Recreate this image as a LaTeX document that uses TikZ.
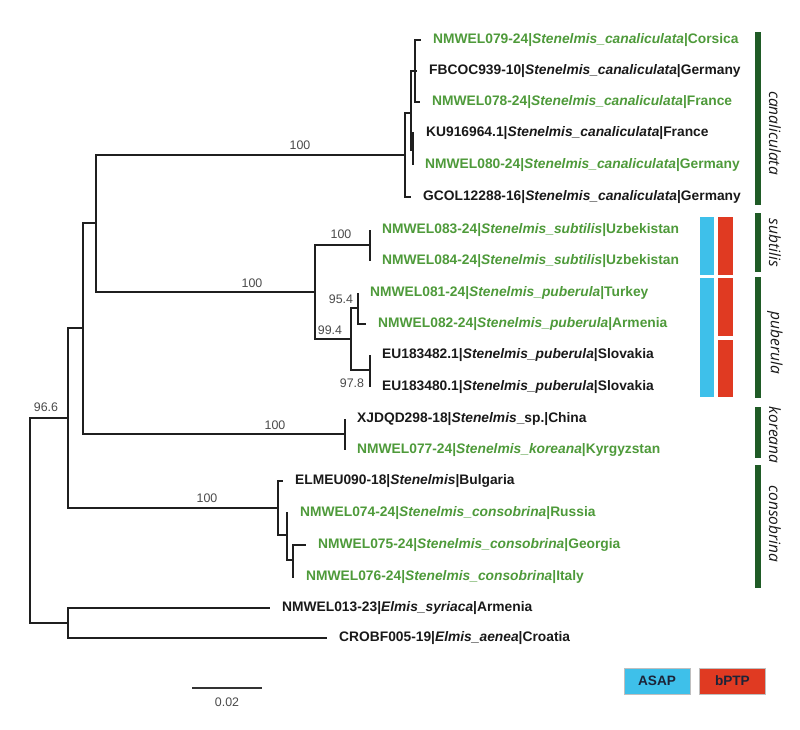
\documentclass[tikz,border=0pt]{standalone}
\usepackage{fontspec}
\setmainfont{Liberation Sans}
\newfontfamily\cladefont{Open Sans}
\usetikzlibrary{positioning}
\definecolor{treegreen}{HTML}{4E9A3A}
\definecolor{cladegreen}{HTML}{1F5B26}
\definecolor{asapblue}{HTML}{3EC0EA}
\definecolor{bptpred}{HTML}{E03A22}
\definecolor{supgray}{HTML}{4A4A4A}
\definecolor{legendtext}{HTML}{1C2438}
\tikzset{
  branch/.style={line width=2.8pt, draw=black!88},
  tiplab/.style={inner sep=0pt, font=\fontsize{13.8}{14}\selectfont\bfseries, text=black!90},
  newtip/.style={tiplab, text=treegreen},
  support/.style={inner sep=0pt, font=\fontsize{12.4}{13}\selectfont, text=supgray},
  cladebar/.style={fill=cladegreen},
  cladelab/.style={rotate=-90, inner sep=0pt, text=black!90, font=\cladefont\itshape\fontsize{15.5}{16}\selectfont},
  asapbar/.style={fill=asapblue},
  bptpbar/.style={fill=bptpred},
  legendbox/.style={draw=black!25, line width=0.4pt, minimum width=66pt, minimum height=26pt,
    inner sep=0pt, text=legendtext, font=\fontsize{13.6}{14}\selectfont\bfseries},
  scalebar/.style={line width=1.8pt, draw=black!80},
}
\newcommand{\stn}[1]{\textit{Stenelmis\_#1}}

\begin{document}
\begin{tikzpicture}[x=1pt, y=-1pt]
\useasboundingbox (0,0) rectangle (800,730);
% internal nodes
\coordinate (root) at (30,520);
\coordinate (A) at (68,418);
\coordinate (B) at (83,328);
\coordinate (C) at (96,223);
\coordinate (Can) at (405,155);
\coordinate (c2) at (411,113);
\coordinate (c3) at (415,71);
\coordinate (c4) at (413,150);
\coordinate (SP) at (315,292);
\coordinate (Sub) at (370,245);
\coordinate (Pub) at (351,339);
\coordinate (P1) at (358,308);
\coordinate (P2) at (370,370);
\coordinate (Kor) at (345,434);
\coordinate (Cons) at (278,508);
\coordinate (k1) at (287,535);
\coordinate (k2) at (293,560);
\coordinate (Out) at (68,623);
% tips
\coordinate (t01) at (421,40);
\coordinate (t02) at (417,71);
\coordinate (t03) at (420,102);
\coordinate (t04) at (414,133);
\coordinate (t05) at (413,165);
\coordinate (t06) at (411,197);
\coordinate (t07) at (370,230);
\coordinate (t08) at (370,261);
\coordinate (t09) at (358,293);
\coordinate (t10) at (366,324);
\coordinate (t11) at (370,355);
\coordinate (t12) at (370,387);
\coordinate (t13) at (345,419);
\coordinate (t14) at (345,450);
\coordinate (t15) at (283,481);
\coordinate (t16) at (288,513);
\coordinate (t17) at (306,545);
\coordinate (t18) at (294,577);
\coordinate (t19) at (270,608);
\coordinate (t20) at (327,638);
% branches
\draw[branch] (root) |- (A);
\draw[branch] (root) |- (Out);
\draw[branch] (A) |- (B);
\draw[branch] (A) |- (Cons);
\draw[branch] (B) |- (C);
\draw[branch] (B) |- (Kor);
\draw[branch] (C) |- (Can);
\draw[branch] (C) |- (SP);
\draw[branch] (Can) |- (c2);
\draw[branch] (Can) |- (t06);
\draw[branch] (c2) |- (c3);
\draw[branch] (c2) |- (c4);
\draw[branch] (c3) |- (t01);
\draw[branch] (c3) |- (t02);
\draw[branch] (c3) |- (t03);
\draw[branch] (c4) |- (t04);
\draw[branch] (c4) |- (t05);
\draw[branch] (SP) |- (Sub);
\draw[branch] (SP) |- (Pub);
\draw[branch] (Sub) |- (t07);
\draw[branch] (Sub) |- (t08);
\draw[branch] (Pub) |- (P1);
\draw[branch] (Pub) |- (P2);
\draw[branch] (P1) |- (t09);
\draw[branch] (P1) |- (t10);
\draw[branch] (P2) |- (t11);
\draw[branch] (P2) |- (t12);
\draw[branch] (Kor) |- (t13);
\draw[branch] (Kor) |- (t14);
\draw[branch] (Cons) |- (t15);
\draw[branch] (Cons) |- (k1);
\draw[branch] (k1) |- (t16);
\draw[branch] (k1) |- (k2);
\draw[branch] (k2) |- (t17);
\draw[branch] (k2) |- (t18);
\draw[branch] (Out) |- (t19);
\draw[branch] (Out) |- (t20);
% tip labels
\node[newtip, right=12pt of t01] (l01) {NMWEL079-24|\stn{canaliculata}|Corsica};
\node[tiplab, right=12pt of t02] (l02) {FBCOC939-10|\stn{canaliculata}|Germany};
\node[newtip, right=12pt of t03] (l03) {NMWEL078-24|\stn{canaliculata}|France};
\node[tiplab, right=12pt of t04] (l04) {KU916964.1|\stn{canaliculata}|France};
\node[newtip, right=12pt of t05] (l05) {NMWEL080-24|\stn{canaliculata}|Germany};
\node[tiplab, right=12pt of t06] (l06) {GCOL12288-16|\stn{canaliculata}|Germany};
\node[newtip, right=12pt of t07] (l07) {NMWEL083-24|\stn{subtilis}|Uzbekistan};
\node[newtip, right=12pt of t08] (l08) {NMWEL084-24|\stn{subtilis}|Uzbekistan};
\node[newtip, right=12pt of t09] (l09) {NMWEL081-24|\stn{puberula}|Turkey};
\node[newtip, right=12pt of t10] (l10) {NMWEL082-24|\stn{puberula}|Armenia};
\node[tiplab, right=12pt of t11] (l11) {EU183482.1|\stn{puberula}|Slovakia};
\node[tiplab, right=12pt of t12] (l12) {EU183480.1|\stn{puberula}|Slovakia};
\node[tiplab, right=12pt of t13] (l13) {XJDQD298-18|\textit{Stenelmis}\_sp.|China};
\node[newtip, right=12pt of t14] (l14) {NMWEL077-24|\stn{koreana}|Kyrgyzstan};
\node[tiplab, right=12pt of t15] (l15) {ELMEU090-18|\textit{Stenelmis}|Bulgaria};
\node[newtip, right=12pt of t16] (l16) {NMWEL074-24|\stn{consobrina}|Russia};
\node[newtip, right=12pt of t17] (l17) {NMWEL075-24|\stn{consobrina}|Georgia};
\node[newtip, right=12pt of t18] (l18) {NMWEL076-24|\stn{consobrina}|Italy};
\node[tiplab, right=12pt of t19] (l19) {NMWEL013-23|\textit{Elmis\_syriaca}|Armenia};
\node[tiplab, right=12pt of t20] (l20) {CROBF005-19|\textit{Elmis\_aenea}|Croatia};
% support values
\node[support] (s1) at (46,407) {96.6};
\node[support] (s2) at (300,145) {100};
\node[support] (s3) at (252,283) {100};
\node[support] (s4) at (341,234) {100};
\node[support] (s5) at (341,299) {95.4};
\node[support] (s6) at (330,330) {99.4};
\node[support] (s7) at (352,383) {97.8};
\node[support] (s8) at (275,425) {100};
\node[support] (s9) at (207,498) {100};
% species delimitation
\fill[asapbar] (700,217) rectangle (714,275);
\fill[asapbar] (700,278) rectangle (714,397);
\fill[bptpbar] (718,217) rectangle (733,275);
\fill[bptpbar] (718,278) rectangle (733,336);
\fill[bptpbar] (718,340) rectangle (733,397);
\fill[cladebar] (755,32) rectangle (761,205);
\fill[cladebar] (755,213) rectangle (761,272);
\fill[cladebar] (755,277) rectangle (761,398);
\fill[cladebar] (755,407) rectangle (761,458);
\fill[cladebar] (755,465) rectangle (761,588);
\node[cladelab] (g1) at (775,133) {canaliculata};
\node[cladelab] (g2) at (775,243) {subtilis};
\node[cladelab] (g3) at (775,343) {puberula};
\node[cladelab] (g4) at (775,435) {koreana};
\node[cladelab] (g5) at (775,524) {consobrina};
% legend and scale
\node[legendbox, fill=asapblue] (asap) at (657,681) {ASAP};
\node[legendbox, fill=bptpred, right=9pt of asap] (bptp) {bPTP};
\coordinate (sbl) at (192,688);
\coordinate (sbr) at (262,688);
\draw[scalebar] (sbl) -- node[support, below=9pt] (sblab) {0.02} (sbr);
\end{tikzpicture}
\end{document}
